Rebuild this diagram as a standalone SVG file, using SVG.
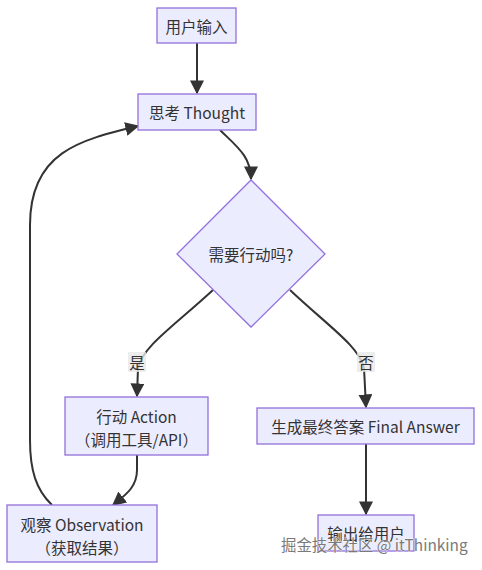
<svg xmlns="http://www.w3.org/2000/svg" width="482" height="570" viewBox="0 0 482 570">
<style>
.node rect, .node polygon { fill: #ECECFF; stroke: #9370DB; stroke-width: 1.3; }
.node text { font-family: "Noto Sans CJK SC", "Noto Sans", sans-serif; font-size: 15.5px; fill: #333333; text-anchor: middle; dominant-baseline: central; }
.edges path { fill: none; stroke: #333333; stroke-width: 2; }
.lbl rect { fill: #E8E8E8; fill-opacity: 0.8; }
.lbl text { font-family: "Noto Sans CJK SC", sans-serif; font-size: 15.5px; fill: #333333; text-anchor: middle; dominant-baseline: central; }
.wm { font-family: "Noto Sans CJK SC", "Noto Sans", sans-serif; font-size: 15.4px; fill: #7a7a7a; stroke: #ffffff; stroke-width: 0.6; paint-order: stroke; }
</style>
<defs>
<marker id="arr" markerUnits="userSpaceOnUse" markerWidth="14" markerHeight="14" viewBox="0 0 10 10" refX="9" refY="5" orient="auto">
<path d="M0,0 L10,5 L0,10 z" fill="#333333"/>
</marker>
</defs>
<rect width="482" height="570" fill="#ffffff"/>
<g class="edges">
<path d="M197,43 L197,93" marker-end="url(#arr)"/>
<path d="M220,130 C236,146 251,156 251,179" marker-end="url(#arr)"/>
<path d="M213,290 C174,326 143,346 138,368 L137,396" marker-end="url(#arr)"/>
<path d="M290,290 C328,326 359,346 364,368 L366,407" marker-end="url(#arr)"/>
<path d="M137,455 L137,470 C137,488 124,496 113,505" marker-end="url(#arr)"/>
<path d="M366,444 L366,514" marker-end="url(#arr)"/>
<path d="M52,505 C36,490 30,470 30,440 L30,225 C30,152 80,140 138,126" marker-end="url(#arr)"/>
</g>
<g class="lbl" id="label-yes">
<rect x="128" y="352" width="18" height="20"/>
<text x="137" y="362">是</text>
</g>
<g class="lbl" id="label-no">
<rect x="357" y="352" width="18" height="20"/>
<text x="366" y="362">否</text>
</g>
<g class="node" id="user-input">
<rect x="157" y="8" width="79" height="35"/>
<text x="196.5" y="26">用户输入</text>
</g>
<g class="node" id="thought">
<rect x="138" y="94" width="118" height="36"/>
<text x="197" y="112">思考 Thought</text>
</g>
<g class="node" id="decision">
<polygon points="251,180 325,254 251,327 177,254"/>
<text x="251" y="254">需要行动吗?</text>
</g>
<g class="node" id="action">
<rect x="65" y="397" width="143" height="58"/>
<text x="136.5" y="416">行动 Action</text>
<text x="136.5" y="439">（调用工具/API）</text>
</g>
<g class="node" id="observation">
<rect x="7" y="505" width="150" height="57"/>
<text x="82" y="524">观察 Observation</text>
<text x="82" y="547">（获取结果）</text>
</g>
<g class="node" id="final-answer">
<rect x="257" y="408" width="217" height="36"/>
<text x="365.5" y="426">生成最终答案 Final Answer</text>
</g>
<g class="node" id="output">
<rect x="318" y="515" width="96" height="36"/>
<text x="366" y="533">输出给用户</text>
</g>
<text class="wm" x="281" y="551">掘金技术社区 @ itThinking</text>
</svg>
